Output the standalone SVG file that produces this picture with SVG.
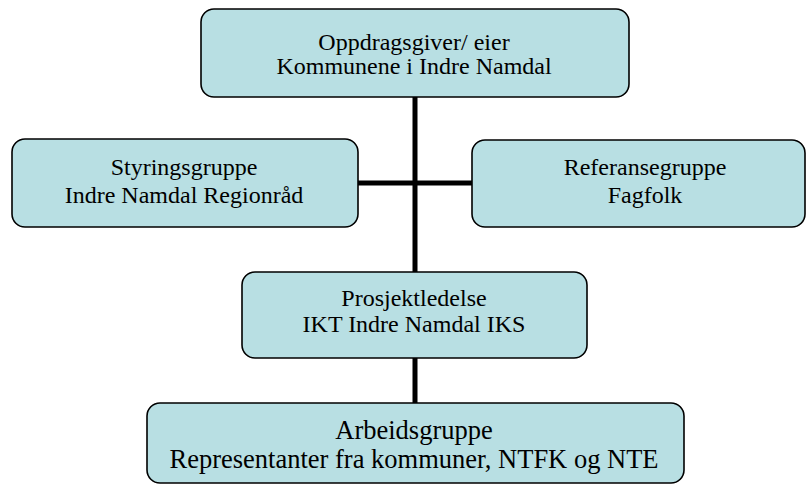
<svg xmlns="http://www.w3.org/2000/svg" width="807" height="486" viewBox="0 0 807 486">
<style>
.box{fill:#b8dfe3;stroke:#000;stroke-width:1.6}
.t{font-family:"Liberation Serif","Times New Roman",serif;font-size:24px;fill:#000;text-anchor:middle}
.tb{font-size:26.5px}
.c{stroke:#000;stroke-width:5;fill:none}
</style>
<rect width="807" height="486" fill="#fff"/>
<g id="connectors">
<line class="c" x1="415" y1="97" x2="415" y2="403"/>
<line class="c" x1="358" y1="183" x2="472" y2="183"/>
</g>
<g id="oppdragsgiver">
<rect class="box" x="201" y="9" width="428" height="88" rx="13"/>
<text class="t" x="414" y="50">Oppdragsgiver/ eier</text>
<text class="t" x="414" y="74">Kommunene i Indre Namdal</text>
</g>
<g id="styringsgruppe">
<rect class="box" x="12" y="139" width="346" height="88" rx="13"/>
<text class="t" x="184" y="175">Styringsgruppe</text>
<text class="t" x="184" y="203">Indre Namdal Regionråd</text>
</g>
<g id="referansegruppe">
<rect class="box" x="472" y="140" width="333" height="87" rx="13"/>
<text class="t" x="645" y="175">Referansegruppe</text>
<text class="t" x="645" y="203">Fagfolk</text>
</g>
<g id="prosjektledelse">
<rect class="box" x="242" y="272" width="345" height="86" rx="13"/>
<text class="t" x="414" y="306">Prosjektledelse</text>
<text class="t" x="414" y="332">IKT Indre Namdal IKS</text>
</g>
<g id="arbeidsgruppe">
<rect class="box" x="147" y="403" width="537" height="80" rx="13"/>
<text class="t tb" x="414" y="439">Arbeidsgruppe</text>
<text class="t tb" x="414" y="468">Representanter fra kommuner, NTFK og NTE</text>
</g>
</svg>
